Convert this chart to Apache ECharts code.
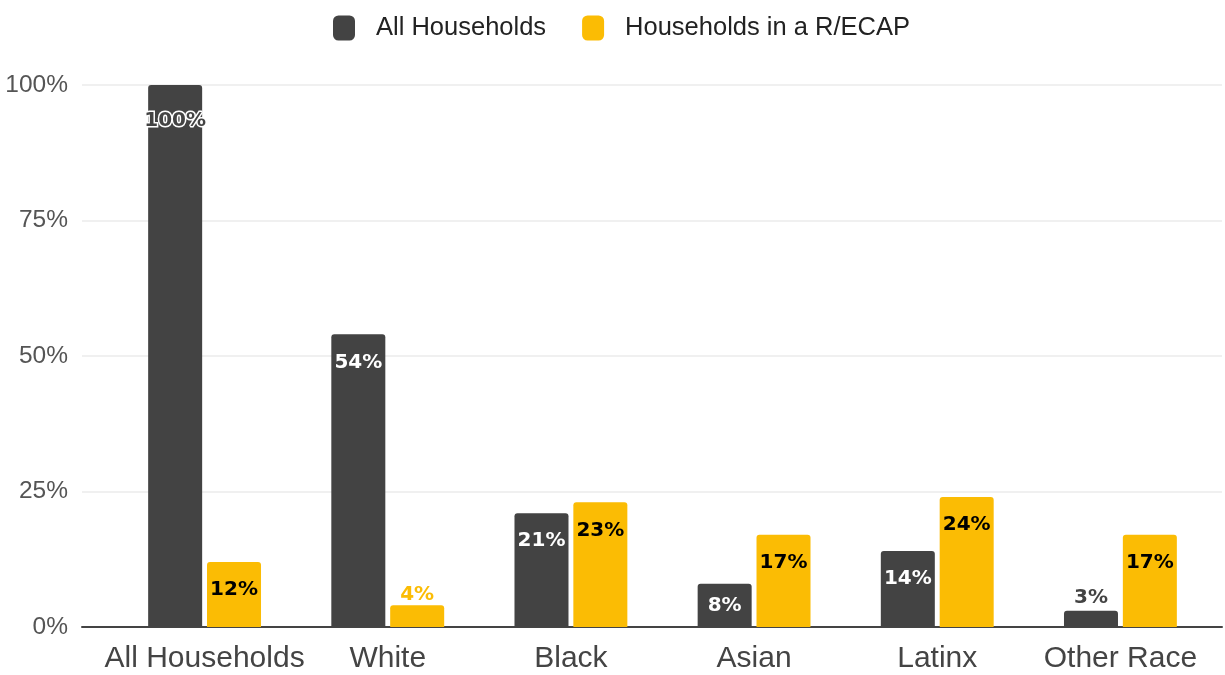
<!DOCTYPE html>
<html>
<head>
<meta charset="utf-8">
<script src="https://cdn.jsdelivr.net/npm/echarts@6/dist/echarts.min.js"></script>
<style>
  html, body { margin: 0; padding: 0; background: #fff; }
  #chart { width: 1225px; height: 675px; }
</style>
</head>
<body>
<div id="chart"></div>
<script>
// Share of households by race/ethnicity: all households vs. households in a R/ECAP
const categories = ['All Households', 'White', 'Black', 'Asian', 'Latinx', 'Other Race'];
const allHouseholds = [100, 54, 21, 8, 14, 3];
const recapHouseholds = [12, 4, 23, 17, 24, 17];
const yTicks = [0, 25, 50, 75, 100];

const DARK = '#434343';
const YELLOW = '#fbbc04';
const FONT = 'Liberation Sans';
const LABEL_FONT = 'DejaVu Sans';

// Label placement per bar: inside near the top for tall bars, above for short ones
function darkLabel(v) {
  if (v >= 100) {
    return { position: 'insideTop', distance: 26, color: '#434343',
             textBorderColor: '#fff', textBorderWidth: 3 };
  }
  if (v >= 12) {
    return { position: 'insideTop', distance: 18, color: '#fff' };
  }
  if (v >= 6) {
    return { position: 'inside', color: '#fff' };
  }
  return { position: 'top', distance: 3, color: '#434343' };
}
function yellowLabel(v) {
  if (v >= 8) {
    return { position: 'insideTop', distance: 18, color: '#000' };
  }
  return { position: 'top', distance: 1, color: YELLOW,
           textBorderColor: '#fff', textBorderWidth: 3 };
}

const labelBase = {
  show: true,
  fontFamily: LABEL_FONT,
  fontSize: 20,
  fontWeight: 'bold',
  formatter: p => p.value + '%'
};

const chart = echarts.init(document.getElementById('chart'), null, { renderer: 'canvas' });

chart.setOption({
  backgroundColor: '#fff',
  animation: false,
  legend: {
    top: 10,
    left: 328,
    itemWidth: 22,
    itemHeight: 25,
    itemGap: 36,
    itemStyle: { borderRadius: 3 },
    textStyle: { fontFamily: FONT, fontSize: 25.5, color: '#222', padding: [0, 0, 0, 16] },
    data: ['All Households', 'Households in a R/ECAP']
  },
  grid: [
    // Frame: value scale, gridlines and baseline across the full width
    { left: 82, right: 3, top: 85, bottom: 48 },
    // Bars
    { left: 113, right: 13, top: 85, bottom: 48 }
  ],
  xAxis: [
    {
      gridIndex: 0, type: 'category', data: [''],
      axisLine: { show: true, lineStyle: { color: '#444', width: 2 } },
      axisTick: { show: false }, axisLabel: { show: false }
    },
    {
      gridIndex: 1, type: 'category', data: categories,
      axisLine: { show: false }, axisTick: { show: false },
      axisLabel: { fontFamily: FONT, fontSize: 30, color: '#444', margin: 17, interval: 0 }
    }
  ],
  yAxis: [
    {
      gridIndex: 0, type: 'value', min: 0, max: 100, interval: 25,
      axisLine: { show: false }, axisTick: { show: false },
      splitLine: { lineStyle: { color: '#ebebeb', width: 1.5 } },
      axisLabel: {
        fontFamily: FONT, fontSize: 24.5, color: '#555', margin: 14,
        formatter: v => yTicks.includes(v) ? v + '%' : ''
      }
    },
    {
      gridIndex: 1, type: 'value', min: 0, max: 100, interval: 25,
      show: false, splitLine: { show: false }
    }
  ],
  series: [
    {
      name: 'All Households', type: 'bar',
      xAxisIndex: 1, yAxisIndex: 1,
      barWidth: 54, barGap: '9%',
      itemStyle: { color: DARK, borderRadius: [3, 3, 0, 0] },
      label: labelBase,
      data: allHouseholds.map(v => ({ value: v, label: darkLabel(v) }))
    },
    {
      name: 'Households in a R/ECAP', type: 'bar',
      xAxisIndex: 1, yAxisIndex: 1,
      barWidth: 54, barGap: '9%',
      itemStyle: { color: YELLOW, borderRadius: [3, 3, 0, 0] },
      label: labelBase,
      data: recapHouseholds.map(v => ({ value: v, label: yellowLabel(v) }))
    }
  ]
});
</script>
</body>
</html>
